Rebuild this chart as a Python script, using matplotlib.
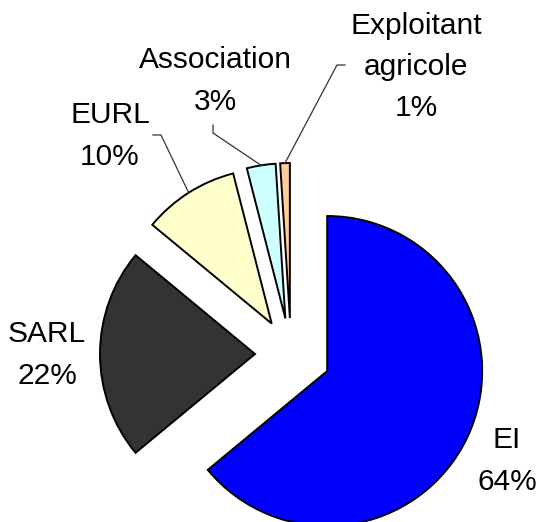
import numpy as np
import matplotlib
matplotlib.use("Agg")
import matplotlib.pyplot as plt

plt.rcParams['font.family'] = ['Liberation Sans', 'DejaVu Sans']

labels = ['EI', 'SARL', 'EURL', 'Association', 'Exploitant\nagricole']
shares = [64, 22, 10, 3, 1]
colors = ['#0000FF', '#333333', '#FFFFCC', '#CCFFFF', '#FFCC99']
# pie.explode is in data units here (axes in pixel units)
explode = [40, 36, 36, 36, 36]

# label centres (pixel-like data coords, y up)
label_pos = [(507, 61), (47, 167), (110, 386), (215, 441), (416, 455)]
# leader lines: (start at text, elbow), None for no line
leaders = [None, None, ((153, 387), (161, 387)), ((213, 397), (213, 389)),
           ((345, 457), (337, 457))]

fig = plt.figure(figsize=(5.39, 5.22), dpi=100)
ax = fig.add_axes([0, 0, 1, 1])
wedges, _ = ax.pie(shares, colors=colors, explode=explode, startangle=90,
                   counterclock=False, center=(291, 168), radius=155,
                   wedgeprops=dict(edgecolor='black', linewidth=1.4))
ax.set_xlim(0, 539)
ax.set_ylim(0, 522)
ax.set_aspect('equal')
ax.axis('off')

for w, lab, val, pos, ld in zip(wedges, labels, shares, label_pos, leaders):
    ax.text(pos[0], pos[1], '%s\n%d%%' % (lab, val), ha='center', va='center',
            multialignment='center', fontsize=21.5, linespacing=1.6)
    if ld is not None:
        mid = np.deg2rad((w.theta1 + w.theta2) / 2)
        cx, cy = w.center
        px, py = cx + w.r * np.cos(mid), cy + w.r * np.sin(mid)
        ax.plot([ld[0][0], ld[1][0], px], [ld[0][1], ld[1][1], py],
                color='#333333', lw=0.9)

fig.savefig('out.png', dpi=100)
